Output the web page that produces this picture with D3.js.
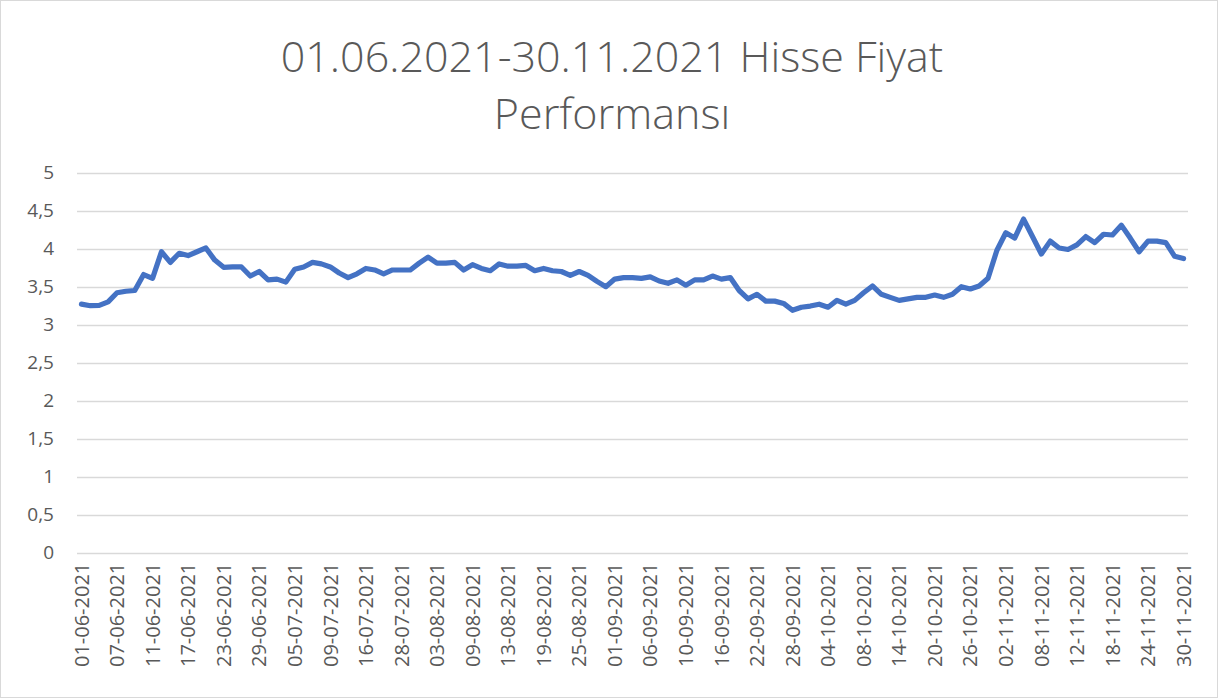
<!DOCTYPE html>
<html>
<head>
<meta charset="utf-8">
<script src="https://cdn.jsdelivr.net/npm/d3@7"></script>
<style>
  html, body { margin: 0; padding: 0; background: #fff; }
  svg { display: block; }
</style>
</head>
<body>
<svg id="chart" width="1218" height="698"></svg>
<script>
const titleLines = ["01.06.2021-30.11.2021 Hisse Fiyat", "Performansı"];

// Trading days per month (2021)
const juneDays = ["01","02","03","04","07","08","09","10","11","14","15","16","17","18","21","22","23","24","25","28","29","30"];
const julyDays = ["01","02","05","06","07","08","09","12","13","14","16","19","26","27","28","29","30"];
const augDays  = ["02","03","04","05","06","09","10","11","12","13","16","17","18","19","20","23","24","25","26","27","31"];
const sepDays  = ["01","02","03","04","06","07","08","09","10","13","14","15","16","17","20","21","22","23","24","27","28","29","30"];
const octDays  = ["01","04","05","06","07","08","11","12","13","14","15","18","19","20","21","22","25","26","27","28"];
const novDays  = ["01","02","03","04","05","08","09","10","11","12","15","16","17","18","19","22","23","24","25","26","29","30"];

const prices = [
  3.27, 3.25, 3.255, 3.30, 3.42, 3.44, 3.45, 3.66, 3.61, 3.96,
  3.82, 3.94, 3.91, 3.96, 4.01, 3.85, 3.755, 3.76, 3.76, 3.64,
  3.70, 3.59, 3.60, 3.56, 3.73, 3.76, 3.82, 3.80, 3.76, 3.68,
  3.62, 3.67, 3.74, 3.72, 3.67, 3.72, 3.72, 3.72, 3.81, 3.89,
  3.81, 3.81, 3.82, 3.72, 3.79, 3.74, 3.71, 3.80, 3.77, 3.77,
  3.78, 3.71, 3.74, 3.71, 3.70, 3.65, 3.70, 3.65, 3.57, 3.50,
  3.60, 3.62, 3.62, 3.61, 3.63, 3.575, 3.545, 3.59, 3.52, 3.59,
  3.59, 3.64, 3.60, 3.62, 3.45, 3.34, 3.40, 3.31, 3.31, 3.28,
  3.19, 3.23, 3.245, 3.27, 3.23, 3.32, 3.27, 3.32, 3.42, 3.51,
  3.40, 3.36, 3.32, 3.34, 3.36, 3.36, 3.39, 3.36, 3.40, 3.50,
  3.47, 3.51, 3.61, 3.98, 4.21, 4.14, 4.39, 4.16, 3.93, 4.10,
  4.01, 3.99, 4.05, 4.16, 4.08, 4.19, 4.18, 4.31, 4.14, 3.96,
  4.10, 4.10, 4.08, 3.90, 3.87
];

const yTicks = [0, 0.5, 1, 1.5, 2, 2.5, 3, 3.5, 4, 4.5, 5];
const labelEvery = 4;

const months = [["06", juneDays], ["07", julyDays], ["08", augDays], ["09", sepDays], ["10", octDays], ["11", novDays]];
const dates = [];
months.forEach(([m, days]) => days.forEach(d => dates.push(d + "-" + m + "-2021")));
const data = dates.map((d, i) => ({ i, date: d, value: prices[i] }));

const svg = d3.select("#chart");
const W = 1218, H = 698;
const plot = { left: 77, right: 1188, top: 172.7, bottom: 552.7 };
const font = "'Open Sans', 'Noto Sans', sans-serif";
const textColor = "#595959";

// chart border
svg.append("rect").attr("x", 0.5).attr("y", 0.5).attr("width", W - 1).attr("height", H - 1)
  .attr("fill", "#fff").attr("stroke", "#d9d9d9").attr("stroke-width", 1);

const x = d3.scaleBand().domain(data.map(d => d.i)).range([plot.left, plot.right]).padding(0);
const y = d3.scaleLinear().domain([0, 5]).range([plot.bottom, plot.top]);
const cx = i => x(i) + x.bandwidth() / 2;

// gridlines
svg.append("g").selectAll("line").data(yTicks).join("line")
  .attr("x1", plot.left).attr("x2", plot.right)
  .attr("y1", d => Math.round(y(d)) + 0.5).attr("y2", d => Math.round(y(d)) + 0.5)
  .attr("stroke", "#d9d9d9").attr("stroke-width", 1.3);

// y axis labels
const fmt = v => String(v).replace(".", ",");
const yAxis = d3.axisLeft(y).tickValues(yTicks).tickFormat(fmt).tickSize(0).tickPadding(0);
const gy = svg.append("g").attr("transform", `translate(${plot.left - 23},0)`).call(yAxis);
gy.select(".domain").remove();
gy.selectAll("text").attr("fill", textColor).style("font-family", font).style("font-size", "19px");

// x axis labels
const xAxis = d3.axisBottom(x)
  .tickValues(data.filter(d => d.i % labelEvery === 0).map(d => d.i))
  .tickFormat(i => dates[i]).tickSize(0).tickPadding(0);
const gx = svg.append("g").attr("transform", `translate(0,${plot.bottom + 10})`).call(xAxis);
gx.select(".domain").remove();
gx.selectAll("text")
  .attr("fill", textColor).style("font-family", font).style("font-size", "20px")
  .attr("text-anchor", "end").attr("transform", "rotate(-90)")
  .attr("x", 0).attr("y", 0).attr("dy", "0.36em");

// line
const line = d3.line().x(d => cx(d.i)).y(d => y(d.value));
svg.append("path").datum(data).attr("d", line)
  .attr("fill", "none").attr("stroke", "#4472c4").attr("stroke-width", 5.2)
  .attr("stroke-linejoin", "round").attr("stroke-linecap", "round");

// title
const title = svg.append("text").attr("text-anchor", "middle")
  .attr("fill", textColor).style("font-family", font).style("font-size", "43px").style("font-weight", 300);
title.selectAll("tspan").data(titleLines).join("tspan")
  .attr("x", 612).attr("y", (d, i) => 72 + i * 57).text(d => d);
</script>
</body>
</html>
